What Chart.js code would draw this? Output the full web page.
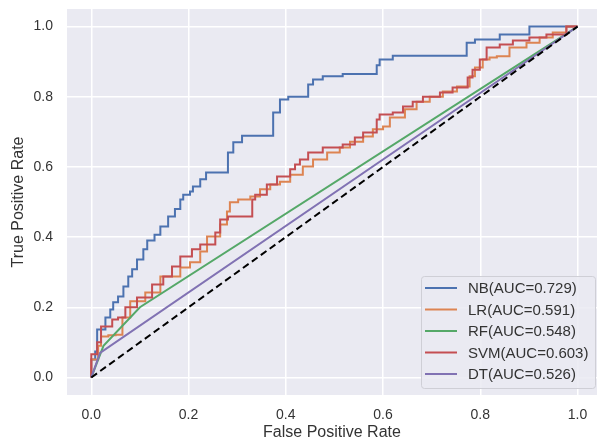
<!DOCTYPE html>
<html>
<head>
<meta charset="utf-8">
<script src="https://cdn.jsdelivr.net/npm/chart.js@4.4.1/dist/chart.umd.min.js"></script>
<style>
  html, body { margin: 0; padding: 0; background: #ffffff; }
  #wrap { width: 597px; height: 442px; }
</style>
</head>
<body>
<div id="wrap"><canvas id="roc" width="597" height="442"></canvas></div>
<script>
// ROC curves

const nbFpr = [0, 0.008, 0.012, 0.029, 0.039, 0.045, 0.055, 0.066, 0.076, 0.084, 0.094, 0.107, 0.115, 0.13, 0.142, 0.158, 0.172, 0.183, 0.189, 0.203, 0.209, 0.224, 0.236, 0.248, 0.281, 0.292, 0.31, 0.341, 0.374, 0.388, 0.405, 0.446, 0.456, 0.476, 0.517, 0.587, 0.593, 0.62, 0.661, 0.772, 0.789, 0.84, 0.901, 0.912, 1.0];
const nbTpr = [0, 0.051, 0.074, 0.137, 0.171, 0.194, 0.214, 0.231, 0.259, 0.288, 0.308, 0.336, 0.365, 0.39, 0.407, 0.43, 0.459, 0.48, 0.507, 0.521, 0.53, 0.544, 0.565, 0.584, 0.584, 0.641, 0.67, 0.689, 0.689, 0.755, 0.792, 0.80, 0.835, 0.849, 0.858, 0.865, 0.89, 0.906, 0.917, 0.917, 0.954, 0.963, 0.977, 1.0, 1.0];

const lrFpr = [0, 0.014, 0.02, 0.035, 0.05, 0.064, 0.08, 0.111, 0.142, 0.183, 0.203, 0.224, 0.238, 0.265, 0.279, 0.285, 0.302, 0.327, 0.347, 0.368, 0.388, 0.409, 0.435, 0.456, 0.485, 0.511, 0.532, 0.559, 0.579, 0.6, 0.614, 0.645, 0.669, 0.696, 0.723, 0.752, 0.778, 0.789, 0.805, 0.819, 0.834, 0.86, 0.895, 0.922, 0.949, 0.977, 1.0];
const lrTpr = [0, 0.051, 0.09, 0.117, 0.12, 0.122, 0.171, 0.217, 0.242, 0.288, 0.313, 0.328, 0.359, 0.402, 0.436, 0.473, 0.499, 0.507, 0.516, 0.536, 0.55, 0.558, 0.578, 0.601, 0.621, 0.641, 0.655, 0.672, 0.687, 0.707, 0.715, 0.741, 0.764, 0.786, 0.8, 0.815, 0.829, 0.858, 0.883, 0.906, 0.912, 0.915, 0.94, 0.954, 0.969, 0.983, 1.0];

const rfFpr = [0, 0.025, 0.1, 1.0];
const rfTpr = [0, 0.09, 0.2, 1.0];

const svmFpr = [0, 0.012, 0.02, 0.033, 0.043, 0.055, 0.07, 0.094, 0.125, 0.148, 0.166, 0.183, 0.207, 0.224, 0.238, 0.255, 0.265, 0.281, 0.292, 0.331, 0.337, 0.361, 0.382, 0.409, 0.419, 0.429, 0.446, 0.476, 0.517, 0.542, 0.559, 0.587, 0.593, 0.62, 0.641, 0.661, 0.682, 0.717, 0.743, 0.774, 0.784, 0.799, 0.813, 0.819, 0.84, 0.867, 0.901, 0.936, 0.977, 0.984, 1.0];
const svmTpr = [0, 0.066, 0.1, 0.145, 0.145, 0.165, 0.171, 0.2, 0.228, 0.265, 0.288, 0.316, 0.345, 0.365, 0.379, 0.379, 0.413, 0.45, 0.459, 0.459, 0.507, 0.521, 0.55, 0.573, 0.593, 0.607, 0.621, 0.641, 0.655, 0.664, 0.684, 0.698, 0.735, 0.749, 0.755, 0.772, 0.786, 0.8, 0.812, 0.826, 0.855, 0.877, 0.906, 0.94, 0.94, 0.949, 0.96, 0.969, 0.977, 1.0, 1.0];

const dtFpr = [0, 0.018, 1.0];
const dtTpr = [0, 0.07, 1.0];

const chanceFpr = [0, 1];
const chanceTpr = [0, 1];

const modelLabels = ['NB(AUC=0.729)', 'LR(AUC=0.591)', 'RF(AUC=0.548)', 'SVM(AUC=0.603)', 'DT(AUC=0.526)'];
const xTicks = [0, 0.2, 0.4, 0.6, 0.8, 1.0];
const yTicks = [0, 0.2, 0.4, 0.6, 0.8, 1.0];

// seaborn "deep" palette
const palette = ['#4C72B0', '#DD8452', '#55A868', '#C44E52', '#8172B3'];
const textColor = '#333333';
const fontFamily = '"Liberation Sans", Arial, sans-serif';

function toPoints(xs, ys) {
  return xs.map((x, i) => ({ x: x, y: ys[i] }));
}

const curves = [
  [nbFpr, nbTpr, 'after'],
  [lrFpr, lrTpr, 'after'],
  [rfFpr, rfTpr, false],
  [svmFpr, svmTpr, 'after'],
  [dtFpr, dtTpr, false]
];

const datasets = curves.map((c, i) => ({
  label: modelLabels[i],
  data: toPoints(c[0], c[1]),
  borderColor: palette[i],
  borderWidth: 2,
  stepped: c[2],
  pointRadius: 0,
  fill: false,
  order: 10 - i // later series on top, like matplotlib
}));

datasets.push({
  label: '',
  data: toPoints(chanceFpr, chanceTpr),
  borderColor: '#000000',
  borderWidth: 2,
  borderDash: [7, 4],
  pointRadius: 0,
  fill: false,
  order: 1
});

// grey plot background
const plotBackground = {
  id: 'plotBackground',
  beforeDraw(chart) {
    const { ctx, chartArea: a } = chart;
    ctx.save();
    ctx.fillStyle = '#EAEAF2';
    ctx.fillRect(a.left, a.top, a.right - a.left, a.bottom - a.top);
    ctx.restore();
  }
};

// legend in the lower right corner of the plot
const insideLegend = {
  id: 'insideLegend',
  afterDatasetsDraw(chart) {
    const { ctx, chartArea: a } = chart;
    const items = chart.data.datasets.filter(d => d.label);
    const boxW = 174, boxH = 112, rowH = 21.5;
    const x0 = a.right - 2 - boxW;
    const y0 = a.bottom - 7 - boxH;

    ctx.save();
    ctx.beginPath();
    ctx.roundRect(x0 + 0.5, y0 + 0.5, boxW, boxH, 3);
    ctx.fillStyle = 'rgba(234,234,242,0.85)';
    ctx.fill();
    ctx.strokeStyle = '#cfcfd6';
    ctx.lineWidth = 1;
    ctx.stroke();

    ctx.font = '15px ' + fontFamily;
    ctx.textBaseline = 'middle';
    ctx.fillStyle = textColor;
    items.forEach((d, i) => {
      const cy = y0 + 12 + i * rowH;
      ctx.beginPath();
      ctx.moveTo(x0 + 4, cy);
      ctx.lineTo(x0 + 36, cy);
      ctx.strokeStyle = d.borderColor;
      ctx.lineWidth = 2;
      ctx.stroke();
      ctx.fillText(d.label, x0 + 47, cy + 1);
    });
    ctx.restore();
  }
};

new Chart(document.getElementById('roc'), {
  type: 'line',
  data: { datasets: datasets },
  options: {
    responsive: false,
    animation: false,
    layout: { padding: { top: 9, right: 0, bottom: 0, left: 0 } },
    plugins: {
      legend: { display: false },
      tooltip: { enabled: false }
    },
    scales: {
      x: {
        type: 'linear',
        min: -0.05,
        max: 1.04,
        afterBuildTicks: (scale) => { scale.ticks = xTicks.map(v => ({ value: v })); },
        afterFit: (scale) => {
          scale.height = 47;
          scale.paddingLeft = 0;
          scale.paddingRight = 0;
        },
        grid: { color: '#ffffff', lineWidth: 1.5, drawTicks: false },
        border: { display: false },
        ticks: {
          color: textColor,
          padding: 12,
          maxRotation: 0,
          font: { family: fontFamily, size: 14 },
          callback: (v) => Number(v).toFixed(1)
        },
        title: {
          display: true,
          text: 'False Positive Rate',
          color: textColor,
          padding: { top: 0, bottom: 0 },
          font: { family: fontFamily, size: 16 }
        }
      },
      y: {
        type: 'linear',
        min: -0.05,
        max: 1.05,
        afterBuildTicks: (scale) => { scale.ticks = yTicks.map(v => ({ value: v })); },
        afterFit: (scale) => {
          scale.width = 67;
          scale.paddingTop = 0;
          scale.paddingBottom = 0;
        },
        grid: { color: '#ffffff', lineWidth: 1.5, drawTicks: false },
        border: { display: false },
        ticks: {
          color: textColor,
          padding: 14,
          font: { family: fontFamily, size: 14 },
          callback: (v) => Number(v).toFixed(1)
        },
        title: {
          display: true,
          text: 'True Positive Rate',
          color: textColor,
          padding: { top: 9, bottom: 0 },
          font: { family: fontFamily, size: 16 }
        }
      }
    }
  },
  plugins: [plotBackground, insideLegend]
});
</script>
</body>
</html>
